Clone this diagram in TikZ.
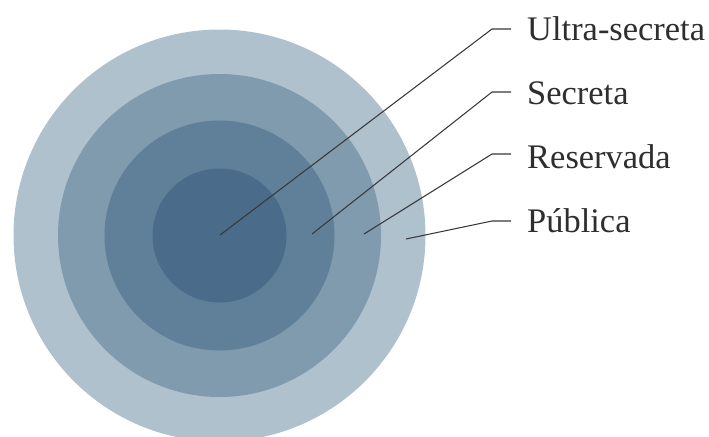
\documentclass[tikz,border=0pt]{standalone}
\usepackage{fontspec}
\setmainfont{Liberation Serif}
\definecolor{ringout}{RGB}{176,193,206}
\definecolor{ringsec}{RGB}{128,154,174}
\definecolor{ringres}{RGB}{96,128,153}
\definecolor{ringcore}{RGB}{74,108,138}
\tikzset{
  lbl/.style={anchor=base west,inner sep=0pt,font=\fontsize{29.4}{34}\selectfont,text=black!82},
  lead/.style={draw=black!78,line width=0.9pt}
}

\begin{document}
\begin{tikzpicture}[x=0.03cm,y=-0.03cm]
  \useasboundingbox (0,0) rectangle (709,436);
  \clip (0,0) rectangle (709,436);
  %% rings, outside in
  \fill[ringout]  (219.5,235.5) circle (206);
  \fill[ringsec]  (219.5,235.5) circle (161.5);
  \fill[ringres]  (219.5,235.5) circle (115);
  \fill[ringcore] (219.5,235.5) circle (67);
  %% labels
  \node[lbl] (ultra) at (527,40)  {Ultra-secreta};
  \node[lbl] (sec)   at (527,104) {Secreta};
  \node[lbl] (res)   at (527,168) {Reservada};
  \node[lbl] (pub)   at (527,232) {Pública};
  %% leader lines
  \coordinate (ultra-in) at (220,235);   \coordinate (ultra-el) at (492,29);  \coordinate (ultra-out) at (511,29);
  \coordinate (sec-in)   at (312,234);   \coordinate (sec-el)   at (492,92);  \coordinate (sec-out)   at (511,92);
  \coordinate (res-in)   at (364,234);   \coordinate (res-el)   at (492,154); \coordinate (res-out)   at (511,154);
  \coordinate (pub-in)   at (406,239);   \coordinate (pub-el)   at (492,221); \coordinate (pub-out)   at (511,221);
  \foreach \k in {ultra,sec,res,pub}
    \draw[lead] (\k-in) -- (\k-el) -- (\k-out);
\end{tikzpicture}
\end{document}
